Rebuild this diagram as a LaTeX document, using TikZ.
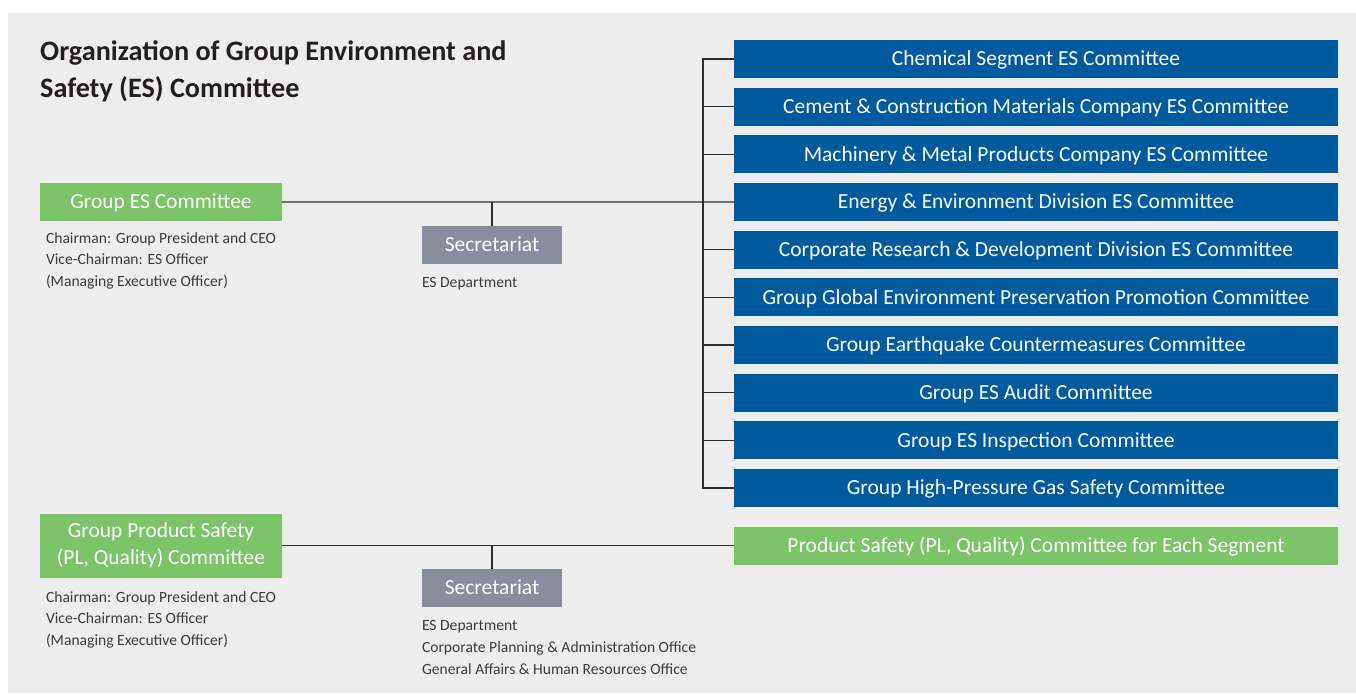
\documentclass[tikz,border=0pt]{standalone}
\usepackage{fontspec}
\setmainfont{Carlito}
\usepackage{xcolor}
\usepackage{tikz}
\usetikzlibrary{shapes,arrows,positioning}

\definecolor{esblue}{RGB}{0,90,158}
\definecolor{esgreen}{RGB}{123,196,104}
\definecolor{secgray}{RGB}{137,142,156}
\definecolor{bggray}{RGB}{237,237,237}
\definecolor{linecol}{RGB}{45,45,45}
\definecolor{notecol}{RGB}{60,60,60}
\definecolor{titlecol}{RGB}{35,31,32}

\begin{document}
\begin{tikzpicture}[x=1pt,y=-1pt]
				\tikzstyle{common} = [draw=none, text=white, inner sep=0, align=center, font=\fontsize{21.5}{27}\selectfont]
				\tikzstyle{oneline} = [common, minimum height=38pt, text height=15pt, text depth=1.2pt]
				\tikzstyle{block} = [rectangle, oneline, fill=esblue, minimum width=604pt, node distance=47.67pt]
				\tikzstyle{chair} = [rectangle, oneline, fill=esgreen, minimum width=242pt]
				\tikzstyle{chairtwo} = [rectangle, common, fill=esgreen, minimum width=242pt, minimum height=64pt]
				\tikzstyle{secr} = [rectangle, oneline, fill=secgray, minimum width=140pt]
				\tikzstyle{note} = [anchor=north west, inner sep=0, align=left, text=notecol, font=\fontsize{15.6}{21.5}\selectfont]
				\tikzstyle{line} = [draw=linecol, line width=1.4pt]

				\useasboundingbox (0,0) rectangle (1356,693);
				\fill[bggray] (8,13) rectangle (1356,693);

				\node[anchor=north west, inner sep=0, align=left, text=titlecol, font=\bfseries\fontsize{28.2}{37}\selectfont] (title) at (40,40) {Organization of Group Environment and\\Safety (ES) Committee};

				\node[block] (chem) at (1036,59) {Chemical Segment ES Committee};
				\node[block, below of=chem] (cement) {Cement \& Construction Materials Company ES Committee};
				\node[block, below of=cement] (machine) {Machinery \& Metal Products Company ES Committee};
				\node[block, below of=machine] (energy) {Energy \& Environment Division ES Committee};
				\node[block, below of=energy] (rnd) {Corporate Research \& Development Division ES Committee};
				\node[block, below of=rnd] (global) {Group Global Environment Preservation Promotion Committee};
				\node[block, below of=global] (quake) {Group Earthquake Countermeasures Committee};
				\node[block, below of=quake] (audit) {Group ES Audit Committee};
				\node[block, below of=audit] (inspect) {Group ES Inspection Committee};
				\node[block, below of=inspect] (gas) {Group High-Pressure Gas Safety Committee};
				\node[block, fill=esgreen] (plseg) at (1036,545.5) {Product Safety (PL, Quality) Committee for Each Segment};

				\node[chair] (grpes) at (161,202) {Group ES Committee};
				\node[chairtwo] (grppl) at (161,545.5) {Group Product Safety\\(PL, Quality) Committee};
				\node[secr] (sec1) at (492,245) {Secretariat};
				\node[secr] (sec2) at (492,588) {Secretariat};

				\node[note] (chair1) at ([xshift=6pt, yshift=-11pt]grpes.south west) {Chairman: Group President and CEO\\Vice-Chairman: ES Officer\\(Managing Executive Officer)};
				\node[note] (chair2) at ([xshift=6pt, yshift=-13.5pt]grppl.south west) {Chairman: Group President and CEO\\Vice-Chairman: ES Officer\\(Managing Executive Officer)};
				\node[note] (dept1) at ([yshift=-13pt]sec1.south west) {ES Department};
				\node[note, font=\fontsize{15.6}{22}\selectfont] (dept2) at ([yshift=-13pt]sec2.south west) {ES Department\\Corporate Planning \& Administration Office\\General Affairs \& Human Resources Office};

				\draw[line] (grpes.east) -- (energy.west);
				\draw[line] (chem.west) -- ++(-31,0) |- (gas.west);
				\draw[line] (cement.west) -- ++(-31,0);
				\draw[line] (machine.west) -- ++(-31,0);
				\draw[line] (rnd.west) -- ++(-31,0);
				\draw[line] (global.west) -- ++(-31,0);
				\draw[line] (quake.west) -- ++(-31,0);
				\draw[line] (audit.west) -- ++(-31,0);
				\draw[line] (inspect.west) -- ++(-31,0);
				\draw[line] (sec1.north) -- (sec1.north |- grpes.east);
				\draw[line] (grppl.east) -- (plseg.west);
				\draw[line] (sec2.north) -- (sec2.north |- grppl.east);
\end{tikzpicture}
\end{document}
